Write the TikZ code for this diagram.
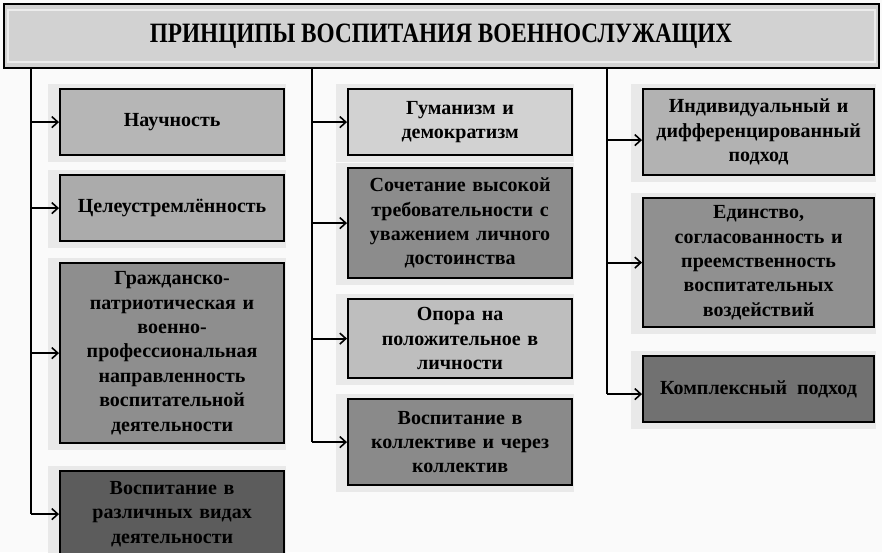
\documentclass[tikz,border=0pt]{standalone}
\usepackage{fontspec}
\setmainfont{Liberation Serif}
\newfontfamily\titlefont[FakeStretch=0.83]{Liberation Serif}
\usetikzlibrary{arrows.meta,calc}
\definecolor{bgc}{HTML}{FAFAFA}
\definecolor{shad}{HTML}{E9E9E9}
\definecolor{titlef}{HTML}{D2D2D2}
\definecolor{cA}{HTML}{B6B6B6}
\definecolor{cB}{HTML}{ABABAB}
\definecolor{cC}{HTML}{8E8E8E}
\definecolor{cD}{HTML}{5C5C5C}
\definecolor{cE}{HTML}{D2D2D2}
\definecolor{cF}{HTML}{8C8C8C}
\definecolor{cG}{HTML}{BEBEBE}
\definecolor{cH}{HTML}{8A8A8A}
\definecolor{cI}{HTML}{B2B2B2}
\definecolor{cJ}{HTML}{909090}
\definecolor{cK}{HTML}{717171}
\tikzset{
  box/.style={draw=black, line width=2.2pt, anchor=north west, inner sep=0pt,
    align=center, font=\bfseries\fontsize{20}{24.4}\selectfont},
  trunk/.style={draw=black, line width=2.2pt},
  arr/.style={draw=black, line width=1.8pt, -{Straight Barb[length=6pt,width=11pt,line width=1.6pt]}}
}
\newcommand{\mybox}[8]{% name, x1, y1, x2, y2, fill, text
  \fill[shad] (#2-11,#3-4) rectangle (#4+3,#5+8);
  \node[box, fill=#6, minimum width=#4-#2, minimum height=#5-#3, text width=#4-#2-12] (#1) at (#2,#3) {#7};
}
\begin{document}
\begin{tikzpicture}[x=1pt,y=-1pt]
\useasboundingbox (0,0) rectangle (882,552);
\clip (0,0) rectangle (882,552);
\fill[bgc] (0,0) rectangle (882,552);
% title
\node[draw=black, line width=2pt, fill=titlef, anchor=north west, minimum width=875, minimum height=64, inner sep=0pt]
  (title) at (3,3) {};
\draw[white!85!gray, line width=1.2pt] (8,10) rectangle (875,62);
\node[font=\titlefont\bfseries\fontsize{28}{30}\selectfont] (tt) at (441,36) {ПРИНЦИПЫ ВОСПИТАНИЯ ВОЕННОСЛУЖАЩИХ};
% left column
\mybox{n1}{59}{88}{283}{154}{cA}{Научность}{}
\mybox{n2}{59}{174}{283}{240}{cB}{Целеустремлённость}{}
\mybox{n3}{59}{262}{283}{442}{cC}{Гражданско-\\патриотическая и\\военно-\\профессиональная\\направленность\\воспитательной\\деятельности}{}
\mybox{n4}{59}{470}{283}{556}{cD}{Воспитание в\\различных видах\\деятельности}{}
% middle column
\mybox{m1}{347}{88}{571}{154}{cE}{Гуманизм и\\демократизм}{}
\mybox{m2}{347}{167}{571}{277}{cF}{Сочетание высокой\\требовательности с\\уважением личного\\достоинства}{}
\mybox{m3}{347}{298}{571}{377}{cG}{Опора на\\положительное в\\личности}{}
\mybox{m4}{347}{398}{571}{484}{cH}{Воспитание в\\коллективе и через\\коллектив}{}
% right column
\mybox{r1}{642}{88}{873}{174}{cI}{Индивидуальный и\\дифференцированный\\подход}{}
\mybox{r2}{642}{197}{873}{326}{cJ}{Единство,\\согласованность и\\преемственность\\воспитательных\\воздействий}{}
\mybox{r3}{642}{355}{873}{421}{cK}{Комплексный\enspace подход}{}
% trunks
\coordinate (tL) at (31,67);
\coordinate (tM) at (312,67);
\coordinate (tR) at (607,67);
\draw[trunk] (tL) -- (tL |- n4.west);
\draw[trunk] (tM) -- (tM |- m4.west);
\draw[trunk] (tR) -- ($(tR |- r3.west)+(0,5)$);
% arrows
\foreach \n in {n1,n2,n3,n4} \draw[arr] (tL |- \n.west) -- (\n.west);
\foreach \n in {m1,m2,m3,m4} \draw[arr] (tM |- \n.west) -- (\n.west);
\draw[arr] ($(tR |- r1.west)+(0,8)$) -- ($(r1.west)+(0,8)$);
\draw[arr] (tR |- r2.west) -- (r2.west);
\draw[arr] ($(tR |- r3.west)+(0,5)$) -- ($(r3.west)+(0,5)$);
\end{tikzpicture}
\end{document}
